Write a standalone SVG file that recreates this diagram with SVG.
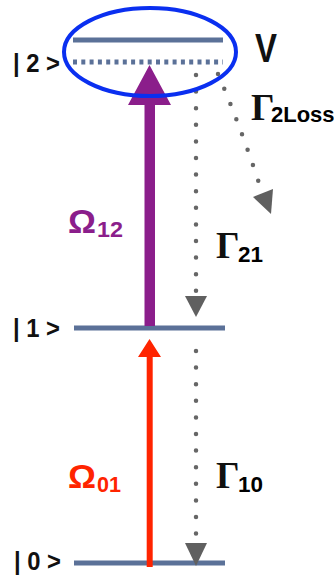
<svg xmlns="http://www.w3.org/2000/svg" width="334" height="576" viewBox="0 0 334 576">
<style>
.lvl{stroke:#5b7198;stroke-width:5;fill:none}
.dot{stroke:#666;stroke-width:4.5;stroke-linecap:round;fill:none;stroke-dasharray:0 16.6}
.ket{font-family:"Liberation Sans",Arial,sans-serif;font-weight:bold;font-size:26px;fill:#111}
.gam{font-family:"Liberation Serif","Times New Roman",serif;font-weight:bold;font-size:37px;fill:#111}
.sub{font-family:"Liberation Sans",Arial,sans-serif;font-weight:bold;font-size:22px}
.om{font-family:"Liberation Sans",Arial,sans-serif;font-weight:bold;font-size:34px}
</style>
<rect width="334" height="576" fill="#fff"/>
<g id="level2">
<line class="lvl" x1="73" y1="40" x2="223" y2="40"/>
<line x1="73" y1="62" x2="223" y2="62" stroke="#5b7198" stroke-width="5" stroke-dasharray="4 4.3"/>
<text class="ket" x="13" y="72" textLength="47" lengthAdjust="spacingAndGlyphs">| 2 &gt;</text>
</g>
<g id="level1">
<line class="lvl" x1="74" y1="328" x2="225" y2="328"/>
<text class="ket" x="13" y="337" textLength="47" lengthAdjust="spacingAndGlyphs">| 1 &gt;</text>
</g>
<g id="level0">
<line class="lvl" x1="74" y1="563" x2="225" y2="563"/>
<text class="ket" x="14" y="570" textLength="47" lengthAdjust="spacingAndGlyphs">| 0 &gt;</text>
</g>
<g id="connectors">
<path d="M144.5 326 V105 H128 L149.5 65 L171 105 H155 V326 Z" fill="#8b1e8b"/>
<path d="M146.7 567 V357 H138 L149.5 339 L161 357 H152.7 V567 Z" fill="#ff2400"/>
<line class="dot" x1="196" y1="75" x2="196" y2="293"/>
<path d="M185 296 L207 296 L196 317 Z" fill="#606060"/>
<line class="dot" x1="196" y1="351" x2="196" y2="535"/>
<path d="M185 543 L207 543 L196 566 Z" fill="#606060"/>
<path d="M218 74 Q238 120 259 183" fill="none" stroke="#666" stroke-width="4.5" stroke-linecap="round" stroke-dasharray="0 16.3"/>
<path d="M253 197 L273 189 L271 214 Z" fill="#606060"/>
</g>
<g id="V">
<ellipse cx="150" cy="52" rx="86" ry="44" fill="none" stroke="#0a2ff0" stroke-width="4"/>
<text x="255" y="62" font-family="Liberation Sans,Arial,sans-serif" font-weight="bold" font-size="40" fill="#111" textLength="22" lengthAdjust="spacingAndGlyphs">V</text>
</g>
<g id="labels">
<text class="gam" x="251" y="120">Γ</text>
<text class="sub" x="271" y="122" font-size="21">2Loss</text>
<text class="gam" x="216" y="258">Γ</text>
<text class="sub" x="238" y="262" textLength="25" lengthAdjust="spacingAndGlyphs">21</text>
<text class="gam" x="216" y="488">Γ</text>
<text class="sub" x="238" y="492" textLength="25" lengthAdjust="spacingAndGlyphs">10</text>
<text class="om" x="68" y="233" fill="#8b1e8b" textLength="28" lengthAdjust="spacingAndGlyphs">Ω</text>
<text class="sub" x="97" y="237" fill="#8b1e8b" textLength="26" lengthAdjust="spacingAndGlyphs">12</text>
<text class="om" x="68" y="488" fill="#ff2400" textLength="28" lengthAdjust="spacingAndGlyphs">Ω</text>
<text class="sub" x="97" y="492" fill="#ff2400" textLength="24" lengthAdjust="spacingAndGlyphs">01</text>
</g>
</svg>
